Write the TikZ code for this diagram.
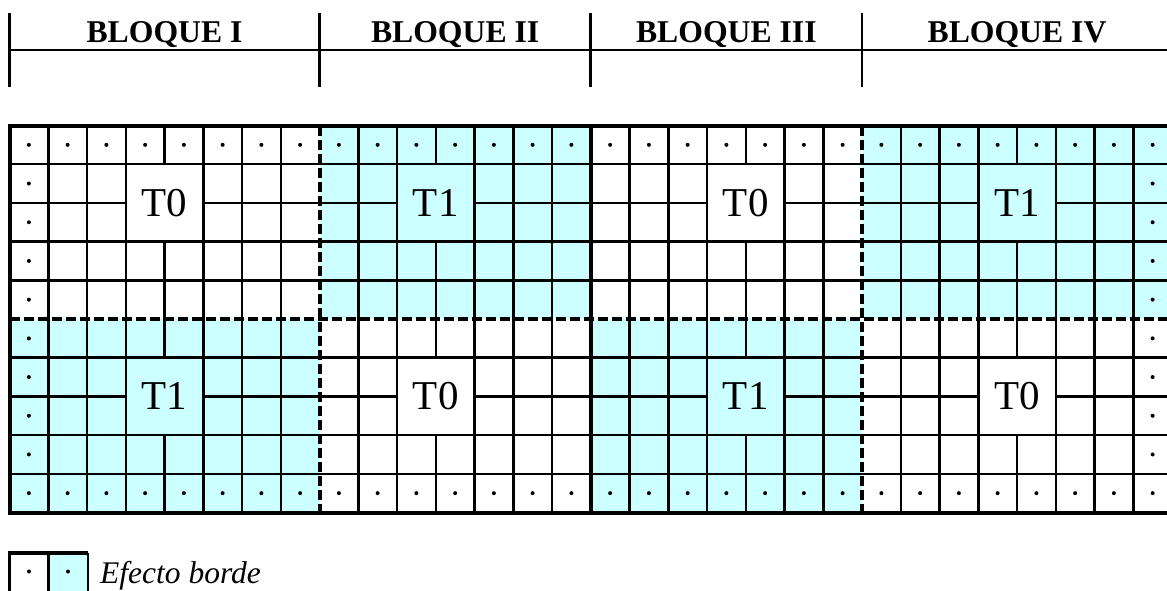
\documentclass[tikz,border=0pt]{standalone}
\usepackage{fontspec}
\setmainfont{Liberation Serif}
\definecolor{borde}{HTML}{CCFFFF}
\pgfmathdeclarefunction{gx}{1}{\pgfmathparse{9.5+38.75*#1}}
\pgfmathdeclarefunction{gy}{1}{\pgfmathparse{125.5+38.7*#1}}
\begin{document}
\begin{tikzpicture}[x=1pt,y=-1pt,
  gridline/.style={line width=2.5pt},
  outerline/.style={line width=4pt},
  blockdash/.style={line width=4pt, dash pattern=on 10pt off 4pt},
  headline/.style={line width=2.8pt},
  dotmark/.style={fill=black},
  head/.style={font=\fontsize{31.7}{34}\selectfont\bfseries, inner sep=0pt, anchor=base},
  tlabel/.style={font=\fontsize{41}{44}\selectfont, inner sep=0pt}]
\useasboundingbox (0,0) rectangle (1167,590);

% shaded quadrants
\fill[borde] ({gx(0)},{gy(5)}) rectangle ({gx(8)},{gy(10)});
\fill[borde] ({gx(8)},{gy(0)}) rectangle ({gx(15)},{gy(5)});
\fill[borde] ({gx(15)},{gy(5)}) rectangle ({gx(22)},{gy(10)});
\fill[borde] ({gx(22)},{gy(0)}) rectangle ({gx(30)},{gy(5)});

% inner grid
\foreach \cs/\n/\m in {0/8/3, 8/7/2, 15/7/3, 22/8/3} {
  \foreach \rs in {0,5} {
    \foreach \r in {1,3,4}
      \draw[gridline] ({gx(\cs)},{gy(\rs+\r)}) -- ({gx(\cs+\n)},{gy(\rs+\r)});
    \draw[gridline] ({gx(\cs)},{gy(\rs+2)}) -- ({gx(\cs+\m)},{gy(\rs+2)});
    \draw[gridline] ({gx(\cs+\m+2)},{gy(\rs+2)}) -- ({gx(\cs+\n)},{gy(\rs+2)});
    \pgfmathtruncatemacro\last{\n-1}
    \pgfmathtruncatemacro\mm{\m+1}
    \foreach \k in {1,...,\last} {
      \ifnum\k=\mm
        \draw[gridline] ({gx(\cs+\k)},{gy(\rs)}) -- ({gx(\cs+\k)},{gy(\rs+1)});
        \draw[gridline] ({gx(\cs+\k)},{gy(\rs+3)}) -- ({gx(\cs+\k)},{gy(\rs+5)});
      \else
        \draw[gridline] ({gx(\cs+\k)},{gy(\rs)}) -- ({gx(\cs+\k)},{gy(\rs+5)});
      \fi
    }
  }
}

% block boundaries
\draw[outerline] ({gx(0)},{gy(0)}) rectangle ({gx(30)},{gy(10)});
\draw[outerline] ({gx(15)},{gy(0)}) -- ({gx(15)},{gy(10)});
\draw[blockdash] ({gx(8)},{gy(0)}) -- ({gx(8)},{gy(10)});
\draw[blockdash] ({gx(22)},{gy(0)}) -- ({gx(22)},{gy(10)});
\draw[blockdash] ({gx(0)},{gy(5)}) -- ({gx(30)},{gy(5)});

% edge-effect dots
\foreach \i in {0,...,29} {
  \fill[dotmark] ({gx(\i+0.5)},{gy(0.5)}) circle (2pt);
  \fill[dotmark] ({gx(\i+0.5)},{gy(9.5)}) circle (2pt);
}
\foreach \j in {1,...,8} {
  \fill[dotmark] ({gx(0.5)},{gy(\j+0.5)}) circle (2pt);
  \fill[dotmark] ({gx(29.5)},{gy(\j+0.5)}) circle (2pt);
}

% treatment labels
\node[tlabel] (t1a) at ({gx(4)},{gy(2)}) {T0};
\node[tlabel] (t1b) at ({gx(4)},{gy(7)}) {T1};
\node[tlabel] (t2a) at ({gx(11)},{gy(2)}) {T1};
\node[tlabel] (t2b) at ({gx(11)},{gy(7)}) {T0};
\node[tlabel] (t3a) at ({gx(19)},{gy(2)}) {T0};
\node[tlabel] (t3b) at ({gx(19)},{gy(7)}) {T1};
\node[tlabel] (t4a) at ({gx(26)},{gy(2)}) {T1};
\node[tlabel] (t4b) at ({gx(26)},{gy(7)}) {T0};

% header
\draw[headline] ({gx(0)},50) -- ({gx(30)},50);
\foreach \c in {0,8,15,22}
  \draw[headline] ({gx(\c)},13) -- ({gx(\c)},87);
\node[head] (h1) at ({(gx(0)+gx(8))/2},42) {BLOQUE I};
\node[head] (h2) at ({(gx(8)+gx(15))/2},42) {BLOQUE II};
\node[head] (h3) at ({(gx(15)+gx(22))/2},42) {BLOQUE III};
\node[head] (h4) at ({(gx(22)+gx(30))/2},42) {BLOQUE IV};

% legend
\fill[borde] (48.5,553) rectangle (87.5,593);
\draw[line width=3.2pt] (9.5,593) -- (9.5,553) -- (87.5,553);
\draw[line width=3.2pt] (48.5,553) -- (48.5,593);
\draw[line width=2pt] (87.5,553) -- (87.5,593);
\fill[dotmark] (29,571.5) circle (2pt);
\fill[dotmark] (68,571.5) circle (2pt);
\node[font=\fontsize{31.5}{34}\selectfont\itshape, inner sep=0pt, anchor=base west] (leg) at (100,583) {Efecto borde};
\end{tikzpicture}
\end{document}
